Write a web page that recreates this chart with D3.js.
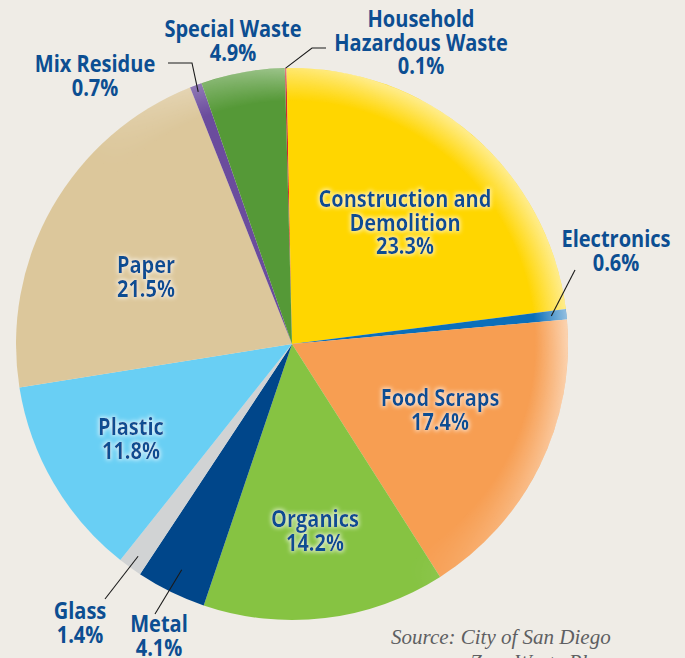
<!DOCTYPE html>
<html>
<head>
<meta charset="utf-8">
<script src="https://cdn.jsdelivr.net/npm/d3@7"></script>
<style>
  html, body { margin: 0; padding: 0; background: #efece6; }
  svg { display: block; }
</style>
</head>
<body>
<div id="chart"></div>
<script>
// ============================================================
// PIE — San Diego waste composition (clockwise from 12 o'clock)
// ============================================================

const categories = ['Household Hazardous Waste', 'Construction and Demolition', 'Electronics',
  'Food Scraps', 'Organics', 'Metal', 'Glass', 'Plastic', 'Paper', 'Mix Residue', 'Special Waste'];
const shares = [0.1, 23.3, 0.6, 17.4, 14.2, 4.1, 1.4, 11.8, 21.5, 0.7, 4.9];
const sliceColors = ['#d2272e', '#ffd600', '#0b6fba', '#f79e52', '#86c342', '#00468a',
  '#d1d3d4', '#69cff4', '#dcc79b', '#6b4c9d', '#559937'];
const labelLines = [
  ['Household', 'Hazardous Waste'], ['Construction and', 'Demolition'], ['Electronics'],
  ['Food Scraps'], ['Organics'], ['Metal'], ['Glass'], ['Plastic'], ['Paper'], ['Mix Residue'], ['Special Waste']
];

const data = categories.map((c, i) => ({ name: c, value: shares[i], color: sliceColors[i], lines: labelLines[i] }));

const W = 685, H = 658;
const cx = 292, cy = 344, R = 276;
const startOff = -1.5 * Math.PI / 180;

// label placement (centre x, first baseline y), inside = glow on pie
const layout = {
  'Household Hazardous Waste':   { x: 421, y: 27,  inside: false },
  'Construction and Demolition': { x: 405, y: 207, inside: true },
  'Electronics':                 { x: 616, y: 247, inside: false },
  'Food Scraps':                 { x: 440, y: 406, inside: true },
  'Organics':                    { x: 315, y: 527, inside: true },
  'Metal':                       { x: 159, y: 632, inside: false },
  'Glass':                       { x: 80,  y: 619, inside: false },
  'Plastic':                     { x: 131, y: 435, inside: true },
  'Paper':                       { x: 146, y: 273, inside: true },
  'Mix Residue':                 { x: 95,  y: 72,  inside: false },
  'Special Waste':               { x: 233, y: 37,  inside: false }
};

// leader lines: start on slice (fraction of radius), then bend/end points
const leaders = {
  'Household Hazardous Waste': { rf: 1.0,  pts: [[312, 48], [326, 48]] },
  'Electronics':               { rf: 0.945, pts: [[575, 270]] },
  'Metal':                     { rf: 0.91, pts: [[155, 614]] },
  'Glass':                     { rf: 0.95, pts: [[105, 599]] },
  'Mix Residue':               { rf: 0.975, pts: [[192, 63], [168, 63]] }
};

const svg = d3.select('#chart').append('svg')
  .attr('width', W).attr('height', H)
  .attr('viewBox', `0 0 ${W} ${H}`);

const defs = svg.append('defs');

// soft white glow behind labels sitting on the pie
const glow = defs.append('filter').attr('id', 'glow')
  .attr('x', '-20%').attr('y', '-40%').attr('width', '140%').attr('height', '180%');
glow.append('feMorphology').attr('in', 'SourceAlpha').attr('operator', 'dilate').attr('radius', 1).attr('result', 'd');
glow.append('feGaussianBlur').attr('in', 'd').attr('stdDeviation', 2.2).attr('result', 'b');
glow.append('feFlood').attr('flood-color', '#ffffff').attr('flood-opacity', 0.7);
glow.append('feComposite').attr('in2', 'b').attr('operator', 'in').attr('result', 'g');
const gm = glow.append('feMerge');
gm.append('feMergeNode').attr('in', 'g');
gm.append('feMergeNode').attr('in', 'SourceGraphic');

// rim highlight, only towards the top / right
const rim = defs.append('radialGradient').attr('id', 'rim')
  .attr('cx', '50%').attr('cy', '50%').attr('r', '50%');
rim.append('stop').attr('offset', '0.88').attr('stop-color', '#fff').attr('stop-opacity', 0);
rim.append('stop').attr('offset', '1').attr('stop-color', '#fff').attr('stop-opacity', 0.55);

const fade = defs.append('linearGradient').attr('id', 'fade')
  .attr('x1', '0.25').attr('y1', '0.75').attr('x2', '0.85').attr('y2', '0.3');
fade.append('stop').attr('offset', '0.35').attr('stop-color', '#fff').attr('stop-opacity', 0);
fade.append('stop').attr('offset', '1').attr('stop-color', '#fff').attr('stop-opacity', 1);

defs.append('mask').attr('id', 'rimMask')
  .attr('maskContentUnits', 'userSpaceOnUse')
  .append('rect')
  .attr('x', -R).attr('y', -R).attr('width', 2 * R).attr('height', 2 * R)
  .attr('fill', 'url(#fade)');

const pie = d3.pie().value(d => d.value).sort(null)
  .startAngle(startOff).endAngle(2 * Math.PI + startOff);
const arcs = pie(data);
const arc = d3.arc().innerRadius(0).outerRadius(R);

const g = svg.append('g').attr('transform', `translate(${cx},${cy})`);

g.selectAll('path.slice')
  .data(arcs)
  .join('path')
  .attr('class', 'slice')
  .attr('d', arc)
  .attr('fill', d => d.data.color);

g.append('circle').attr('r', R)
  .attr('fill', 'url(#rim)')
  .attr('mask', 'url(#rimMask)');

// leader lines
const polar = (a, r) => [Math.sin(a) * r, -Math.cos(a) * r];
arcs.forEach(d => {
  const l = leaders[d.data.name];
  if (!l) return;
  const mid = (d.startAngle + d.endAngle) / 2;
  const p0 = polar(mid, R * l.rf);
  const pts = [[p0[0] + cx, p0[1] + cy], ...l.pts];
  svg.append('path')
    .attr('d', d3.line()(pts))
    .attr('fill', 'none')
    .attr('stroke', '#1a1a1a')
    .attr('stroke-width', 1.1);
});

// labels
const labelG = svg.append('g');
arcs.forEach(d => {
  const p = layout[d.data.name];
  const lines = [...d.data.lines, d.data.value.toFixed(1) + '%'];
  const t = labelG.append('g')
    .attr('transform', `translate(${p.x},${p.y}) scale(0.87,1)`)
    .attr('filter', p.inside ? 'url(#glow)' : null);
  const txt = t.append('text')
    .attr('text-anchor', 'middle')
    .style('font-family', '"Open Sans", sans-serif')
    .style('font-weight', '700')
    .style('font-size', '23px')
    .style('fill', '#0c4e92');
  lines.forEach((s, i) => {
    txt.append('tspan').attr('x', 0).attr('y', i * 23.5).text(s);
  });
});

// source note
const src = svg.append('text')
  .style('font-family', '"Liberation Serif", "DejaVu Serif", serif')
  .style('font-style', 'italic')
  .style('font-size', '21px')
  .style('fill', '#5e5f62');
src.append('tspan').attr('x', 391).attr('y', 644).text('Source: City of San Diego');
src.append('tspan').attr('x', 470).attr('y', 669).text('Zero Waste Plan');
</script>
</body>
</html>
